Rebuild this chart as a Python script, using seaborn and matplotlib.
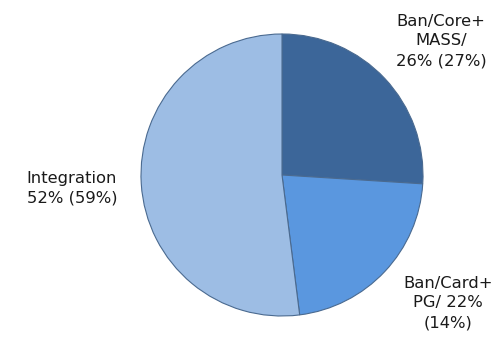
import matplotlib
matplotlib.use("Agg")
import matplotlib.pyplot as plt
import seaborn as sns

sns.set_theme(style="white")
plt.rcParams['font.family'] = ['DejaVu Sans']

categories = ["Ban/Core+\nMASS/\n26% (27%)", "Ban/Card+\nPG/ 22%\n(14%)", "Integration\n52% (59%)"]
values = [26, 22, 52]
colors = ["#3C6699", "#5A97DF", "#9DBDE4"]

W, H = 501, 339
fig = plt.figure(figsize=(W / 100, H / 100), dpi=100)
ax = fig.add_axes([0, 0, 1, 1])
cx, cy, r = 282, 339 - 175, 141

wedges, _ = ax.pie(values, colors=colors, startangle=90, counterclock=False,
                   radius=1, center=(0, 0),
                   wedgeprops=dict(edgecolor="#4A6A90", linewidth=0.8))
ax.set_xlim(-cx / r, (W - cx) / r)
ax.set_ylim(-cy / r, (H - cy) / r)
ax.set_aspect("equal")
ax.axis("off")

label_pos = [(441, 41), (448, 303), (72, 188)]
for txt, (px, py) in zip(categories, label_pos):
    ax.text(px / W, 1 - py / H, txt, transform=ax.transAxes, ha="center", va="center",
            fontsize=11.8, color="#1a1a1a", linespacing=1.38)

fig.savefig("out.png", dpi=100)
